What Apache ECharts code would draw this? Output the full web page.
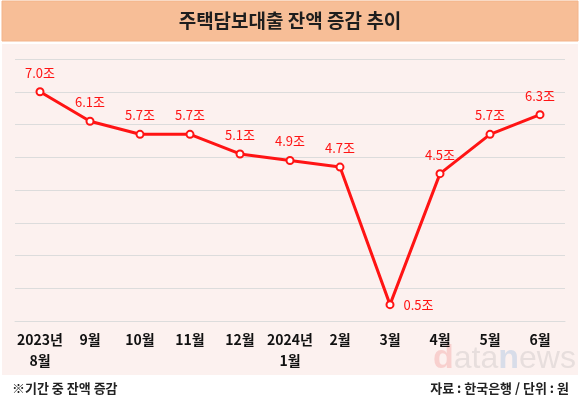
<!DOCTYPE html>
<html>
<head>
<meta charset="utf-8">
<script src="https://cdn.jsdelivr.net/npm/echarts@6/dist/echarts.min.js"></script>
<style>
  html, body { margin: 0; padding: 0; background: #ffffff; }
  #main { width: 580px; height: 396px; }
</style>
</head>
<body>
<div id="main"></div>
<script>
var months = ['2023년\n8월', '9월', '10월', '11월', '12월', '2024년\n1월', '2월', '3월', '4월', '5월', '6월'];
var balanceChange = [7.0, 6.1, 5.7, 5.7, 5.1, 4.9, 4.7, 0.5, 4.5, 5.7, 6.3];
var yTicks = [0, 1, 2, 3, 4, 5, 6, 7, 8];

var font = '"Noto Sans CJK KR", "Noto Sans", sans-serif';
var red = '#ff1414';

var points = balanceChange.map(function (v, i) {
    var item = { value: v };
    if (v === Math.min.apply(null, balanceChange)) {
        item.label = { position: 'right', distance: 9 };
    }
    return item;
});

var chart = echarts.init(document.getElementById('main'));
chart.setOption({
    backgroundColor: '#ffffff',
    animation: false,
    graphic: [
        {
            type: 'rect',
            shape: { x: 2, y: 1, width: 576, height: 40 },
            style: { fill: '#f7be97', stroke: '#f3b48a', lineWidth: 1 },
            z: -10
        },
        {
            type: 'rect',
            shape: { x: 2, y: 44, width: 576, height: 331 },
            style: { fill: '#fcf1ef' },
            z: -10
        },
        {
            type: 'text',
            x: 290, y: 21,
            style: {
                text: '주택담보대출 잔액 증감 추이',
                fill: '#1e1e1e',
                font: 'bold 19px ' + font,
                align: 'center',
                verticalAlign: 'middle'
            }
        },
        {
            type: 'text',
            x: 433, y: 359,
            style: {
                text: '{r|d}{g|ata}{b|n}{g|ews}',
                verticalAlign: 'middle',
                rich: {
                    r: { fill: 'rgba(235,90,90,0.22)', font: 'bold 34px "Liberation Sans", sans-serif' },
                    g: { fill: 'rgba(150,150,150,0.2)', font: '32px "Liberation Sans", sans-serif' },
                    b: { fill: 'rgba(90,150,215,0.22)', font: 'bold 34px "Liberation Sans", sans-serif' }
                }
            },
            z: -5
        },
        {
            type: 'text',
            x: 12, y: 388,
            style: {
                text: '※기간 중 잔액 증감',
                fill: '#222',
                font: 'bold 13px ' + font,
                verticalAlign: 'middle'
            }
        },
        {
            type: 'text',
            x: 569, y: 388,
            style: {
                text: '자료 : 한국은행 / 단위 : 원',
                fill: '#222',
                font: 'bold 13px ' + font,
                align: 'right',
                verticalAlign: 'middle'
            }
        }
    ],
    grid: { left: 15, right: 15, top: 59, bottom: 75, containLabel: false },
    xAxis: {
        type: 'category',
        data: months,
        boundaryGap: true,
        axisLine: { show: true, lineStyle: { color: '#dcdcdc', width: 1 } },
        axisTick: { show: false },
        axisLabel: {
            color: '#111',
            fontFamily: font,
            fontSize: 14,
            fontWeight: 'bold',
            lineHeight: 21,
            margin: 8,
            interval: 0
        }
    },
    yAxis: {
        type: 'value',
        min: yTicks[0],
        max: yTicks[yTicks.length - 1],
        interval: 1,
        axisLabel: { show: false },
        axisLine: { show: false },
        axisTick: { show: false },
        splitLine: { lineStyle: { color: '#dcdcdc', width: 1 } }
    },
    series: [{
        type: 'line',
        data: points,
        symbol: 'circle',
        symbolSize: 7,
        lineStyle: { color: red, width: 3 },
        itemStyle: { color: '#ffffff', borderColor: red, borderWidth: 2 },
        label: {
            show: true,
            position: 'top',
            distance: 8,
            color: red,
            fontFamily: font,
            fontSize: 13,
            formatter: function (p) { return p.value.toFixed(1) + '조'; }
        }
    }]
});
</script>
</body>
</html>
